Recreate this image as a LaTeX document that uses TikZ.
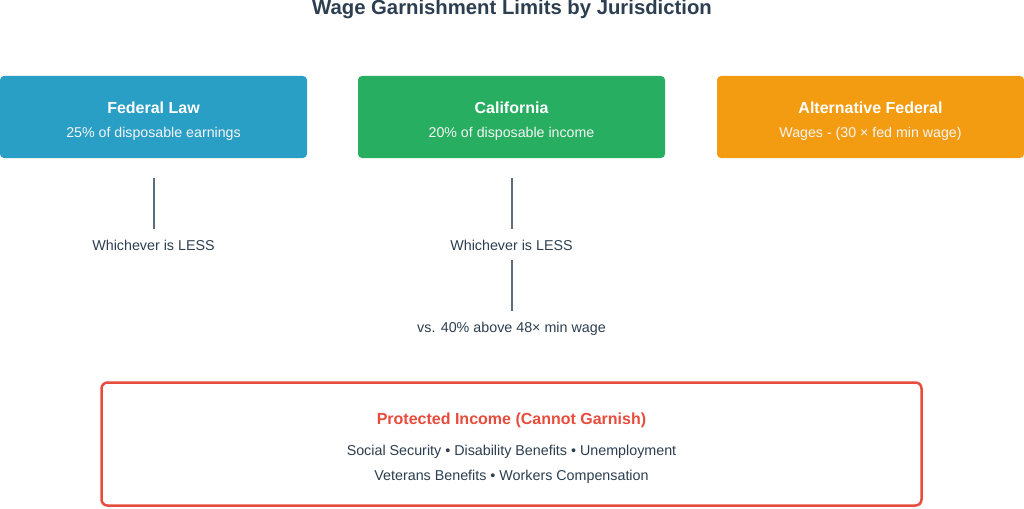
\documentclass[tikz,border=0pt]{standalone}
\usepackage{fontspec}
\setmainfont{Liberation Sans}
\definecolor{fedblue}{HTML}{2A9FC6}
\definecolor{cagreen}{HTML}{27AE60}
\definecolor{altorange}{HTML}{F39C12}
\definecolor{protred}{HTML}{E74C3C}
\definecolor{inkdark}{HTML}{2C3E50}
\definecolor{linkgray}{HTML}{5D6D7E}
\tikzset{
    jbox/.style={rectangle, rounded corners=4pt, draw=none,
        minimum width=307pt, minimum height=82pt, inner sep=0pt},
    jtitle/.style={text=white, inner sep=0pt,
        font=\fontsize{16}{19}\selectfont\bfseries},
    jsub/.style={text=white!92!gray, inner sep=0pt,
        font=\fontsize{14.2}{17}\selectfont},
    note/.style={text=inkdark, inner sep=0pt, text height=10pt, text depth=3pt,
        font=\fontsize{14.3}{17}\selectfont},
    link/.style={draw=linkgray, line width=2pt}
}
\begin{document}
\begin{tikzpicture}[x=1pt, y=-1pt]
    \useasboundingbox (0,0) rectangle (1024,508);

    \node[inner sep=0pt, text=inkdark,
        font=\fontsize{20.3}{24}\selectfont\bfseries
    ] (title) at (512,9.5){Wage Garnishment Limits by Jurisdiction};

    \node[jbox, fill=fedblue] (fed) at (153.5,117){};
    \node[jtitle] (fedtitle) at (153.5,107.5){Federal Law};
    \node[jsub] (fedsub) at (153.5,134){25\% of disposable earnings};

    \node[jbox, fill=cagreen] (cal) at (511.5,117){};
    \node[jtitle] (caltitle) at (511.5,107.5){California};
    \node[jsub] (calsub) at (511.5,134){20\% of disposable income};

    \node[jbox, fill=altorange] (alt) at (870.5,117){};
    \node[jtitle] (alttitle) at (870.5,107.5){Alternative Federal};
    \node[jsub] (altsub) at (870.5,134){Wages - (30 × fed min wage)};

    \node[note] (fedless) at (153.5,246.5){Whichever is LESS};
    \node[note] (calless) at (511.5,246.5){Whichever is LESS};
    \node[note] (calvs) at (511.5,328.5){vs. 40\% above 48× min wage};

    \draw[link, shorten <=20pt, shorten >=11pt] (fed.south) -- (fedless.north);
    \draw[link, shorten <=20pt, shorten >=11pt] (cal.south) -- (calless.north);
    \draw[link, shorten <=7pt, shorten >=11pt] (calless.south) -- (calvs.north);

    \node[rectangle, rounded corners=6pt,
        draw=protred, line width=2.5pt, fill=white,
        minimum width=820pt, minimum height=123pt
    ] (protect) at (511.5,444){};
    \node[inner sep=0pt, text=protred,
        font=\fontsize{16}{19}\selectfont\bfseries
    ] (protitle) at (511.5,420){Protected Income (Cannot Garnish)};
    \node[note] (proline1) at (511.5,451.5){Social Security • Disability Benefits • Unemployment};
    \node[note] (proline2) at (511.5,476.5){Veterans Benefits • Workers Compensation};

\end{tikzpicture}
\end{document}
